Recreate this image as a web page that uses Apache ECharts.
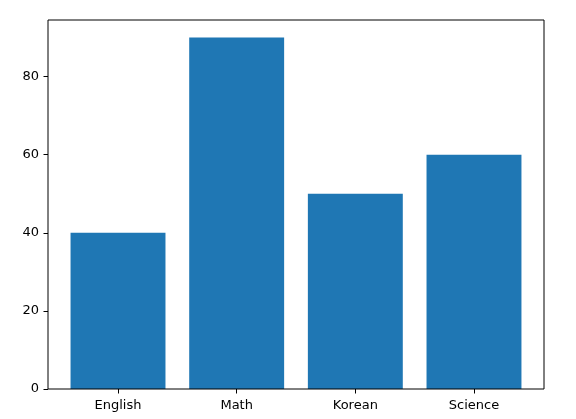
<!DOCTYPE html>
<html>
<head>
<meta charset="utf-8">
<script src="https://cdn.jsdelivr.net/npm/echarts@6/dist/echarts.min.js"></script>
<style>html,body{margin:0;padding:0;background:#fff}#c{width:576px;height:419px}</style>
</head>
<body>
<div id="c"></div>
<script>
const categories = ['English', 'Math', 'Korean', 'Science'];
const scores = [40, 90, 50, 60];
const yTicks = [0, 20, 40, 60, 80];

const chart = echarts.init(document.getElementById('c'), null, {renderer: 'canvas'});
const font = 'DejaVu Sans';
// matplotlib-like x limits: -0.59 .. 3.59 over 496px
const axL = 48, axT = 20, axW = 496, axH = 369;
const xmin = -0.59, xmax = 3.59;
const ppu = axW / (xmax - xmin);
const bandLeft = axL + (-0.5 - xmin) * ppu;
const bandW = categories.length * ppu;

chart.setOption({
  animation: false,
  grid: [
    {left: axL, top: axT, width: axW, height: axH, show: true, borderColor: '#000', borderWidth: 1, backgroundColor: 'transparent', z: 5},
    {left: bandLeft, top: axT, width: bandW, height: axH}
  ],
  xAxis: [
    {gridIndex: 0, type: 'value', show: false, min: 0, max: 1},
    {gridIndex: 1, type: 'category', data: categories,
     axisLine: {show: false},
     axisTick: {show: true, alignWithLabel: true, length: 4.5, lineStyle: {color: '#000', width: 1}},
     axisLabel: {color: '#000', fontFamily: font, fontSize: 13, margin: 10},
     splitLine: {show: false}}
  ],
  yAxis: [
    {gridIndex: 0, type: 'value', show: false, min: 0, max: 1},
    {gridIndex: 1, type: 'value', min: 0, max: 94.5, offset: bandLeft - axL,
     axisLine: {show: false},
     axisTick: {show: true, length: 4.5, customValues: yTicks, lineStyle: {color: '#000', width: 1}},
     axisLabel: {color: '#000', fontFamily: font, fontSize: 13, margin: 9, customValues: yTicks},
     splitLine: {show: false}}
  ],
  series: [{
    type: 'bar', xAxisIndex: 1, yAxisIndex: 1,
    data: scores, barWidth: '80%',
    itemStyle: {color: '#1f77b4'}
  }]
});
</script>
</body>
</html>
